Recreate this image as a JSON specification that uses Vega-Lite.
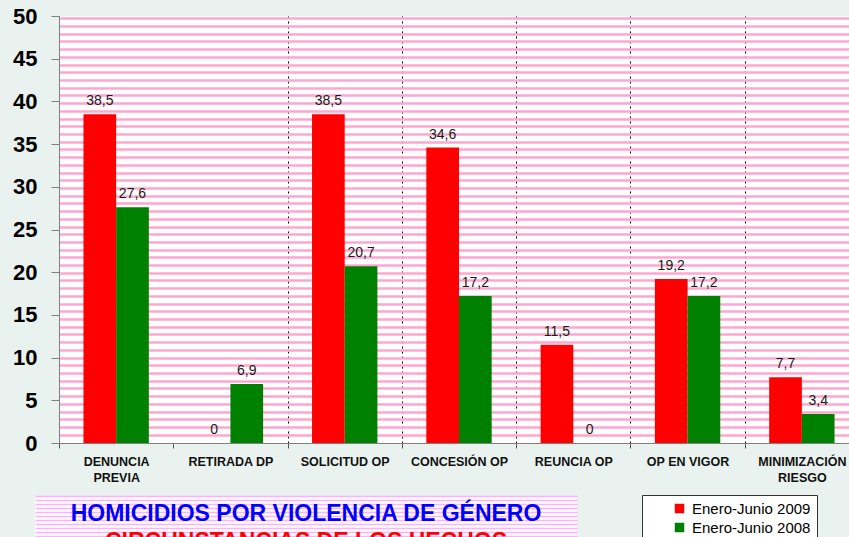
{
  "$schema": "https://vega.github.io/schema/vega-lite/v6.json",
  "background": "#eaf2ef",
  "padding": {"left": 12, "top": 5, "right": 0, "bottom": 0},
  "spacing": 12,
  "datasets": {
    "homicidios": [
      {"categoria": "DENUNCIA PREVIA", "periodo": "Enero-Junio 2009", "valor": 38.5},
      {"categoria": "DENUNCIA PREVIA", "periodo": "Enero-Junio 2008", "valor": 27.6},
      {"categoria": "RETIRADA DP", "periodo": "Enero-Junio 2009", "valor": 0},
      {"categoria": "RETIRADA DP", "periodo": "Enero-Junio 2008", "valor": 6.9},
      {"categoria": "SOLICITUD OP", "periodo": "Enero-Junio 2009", "valor": 38.5},
      {"categoria": "SOLICITUD OP", "periodo": "Enero-Junio 2008", "valor": 20.7},
      {"categoria": "CONCESIÓN OP", "periodo": "Enero-Junio 2009", "valor": 34.6},
      {"categoria": "CONCESIÓN OP", "periodo": "Enero-Junio 2008", "valor": 17.2},
      {"categoria": "REUNCIA OP", "periodo": "Enero-Junio 2009", "valor": 11.5},
      {"categoria": "REUNCIA OP", "periodo": "Enero-Junio 2008", "valor": 0},
      {"categoria": "OP EN VIGOR", "periodo": "Enero-Junio 2009", "valor": 19.2},
      {"categoria": "OP EN VIGOR", "periodo": "Enero-Junio 2008", "valor": 17.2},
      {"categoria": "MINIMIZACIÓN RIESGO", "periodo": "Enero-Junio 2009", "valor": 7.7},
      {"categoria": "MINIMIZACIÓN RIESGO", "periodo": "Enero-Junio 2008", "valor": 3.4}
    ],
    "titulo": [
      {"linea": "titulo", "texto": "HOMICIDIOS POR VIOLENCIA DE GÉNERO"},
      {"linea": "subtitulo", "texto": "CIRCUNSTANCIAS DE LOS HECHOS"}
    ],
    "vacio": [{"n": 0}]
  },
  "vconcat": [
    {
      "hconcat": [
        {
          "width": 24,
          "height": 1,
          "data": {"name": "vacio"},
          "mark": {"type": "point", "opacity": 0},
          "view": {"fill": "transparent", "stroke": "transparent"}
        },
        {
          "width": 800,
          "height": 427,
          "data": {"name": "homicidios"},
          "encoding": {
            "x": {
              "field": "categoria",
              "type": "nominal",
              "sort": ["DENUNCIA PREVIA", "RETIRADA DP", "SOLICITUD OP", "CONCESIÓN OP", "REUNCIA OP", "OP EN VIGOR", "MINIMIZACIÓN RIESGO"],
              "scale": {"paddingInner": 0, "paddingOuter": 0},
              "axis": {
                "title": null,
                "labelAngle": 0,
                "labelFont": "Liberation Sans",
                "labelFontWeight": "bold",
                "labelFontSize": 12.5,
                "labelColor": "#111111",
                "labelPadding": 7,
                "labelLineHeight": 16,
                "labelLimit": 200,
                "labelExpr": "datum.value == 'DENUNCIA PREVIA' ? ['DENUNCIA', 'PREVIA'] : datum.value == 'MINIMIZACIÓN RIESGO' ? ['MINIMIZACIÓN', 'RIESGO'] : datum.label",
                "tickBand": "extent",
                "tickSize": 5,
                "tickColor": "#555555",
                "domainColor": "#808080",
                "grid": true,
                "gridColor": {"condition": {"test": "datum.value === 'DENUNCIA PREVIA'", "value": "transparent"}, "value": "#000000"},
                "gridWidth": {"condition": {"test": "datum.value === 'MINIMIZACIÓN RIESGO'", "value": 2}, "value": 1},
                "gridDash": [2, 3]
              }
            },
            "xOffset": {
              "field": "periodo",
              "sort": ["Enero-Junio 2009", "Enero-Junio 2008"],
              "scale": {"paddingInner": 0, "paddingOuter": 0.748}
            }
          },
          "layer": [
            {
              "mark": {"type": "bar"},
              "encoding": {
                "y": {
                  "field": "valor",
                  "type": "quantitative",
                  "scale": {"domain": [0, 50], "nice": false},
                  "axis": {
                    "title": null,
                    "values": [0, 5, 10, 15, 20, 25, 30, 35, 40, 45, 50],
                    "grid": false,
                    "labelFont": "Liberation Sans",
                    "labelFontWeight": "bold",
                    "labelFontSize": 22,
                    "labelColor": "#000000",
                    "labelPadding": 14,
                    "tickSize": 8,
                    "tickColor": "#808080",
                    "domainColor": "#808080"
                  }
                },
                "color": {
                  "field": "periodo",
                  "type": "nominal",
                  "scale": {"domain": ["Enero-Junio 2009", "Enero-Junio 2008"], "range": ["#ff0000", "#008000"]},
                  "legend": {
                    "orient": "none",
                    "legendX": 607,
                    "legendY": 479,
                    "title": null,
                    "fillColor": "white",
                    "strokeColor": "#333333",
                    "padding": 6,
                    "symbolType": "square",
                    "symbolSize": 90,
                    "symbolStrokeWidth": 0,
                    "symbolOffset": 24,
                    "labelFont": "Liberation Sans",
                    "labelFontSize": 15,
                    "labelColor": "#000000",
                    "labelOffset": 5,
                    "rowPadding": 3
                  }
                }
              }
            },
            {
              "mark": {"type": "text", "baseline": "alphabetic", "dy": -9, "font": "Liberation Sans", "fontSize": 14, "fill": "#1a1a1a"},
              "encoding": {
                "y": {
                  "field": "valor",
                  "type": "quantitative",
                  "axis": {
                    "orient": "right",
                    "title": null,
                    "labels": false,
                    "ticks": false,
                    "domain": false,
                    "grid": true,
                    "gridColor": "#ffa6d0",
                    "gridWidth": 2.5,
                    "values": [0.97, 1.87, 2.78, 3.68, 4.58, 5.49, 6.39, 7.29, 8.19, 9.1, 10.0, 10.9, 11.81, 12.71, 13.61, 14.52, 15.42, 16.32, 17.22, 18.13, 19.03, 19.93, 20.84, 21.74, 22.64, 23.55, 24.45, 25.35, 26.25, 27.16, 28.06, 28.96, 29.87, 30.77, 31.67, 32.58, 33.48, 34.38, 35.28, 36.19, 37.09, 37.99, 38.9, 39.8, 40.7, 41.61, 42.51, 43.41, 44.31, 45.22, 46.12, 47.02, 47.93, 48.83, 49.73]
                  }
                },
                "text": {"field": "valor", "type": "quantitative", "format": ".1~f"}
              }
            }
          ],
          "resolve": {"axis": {"y": "independent"}}
        }
      ],
      "spacing": 0,
      "bounds": "flush"
    },
    {
      "width": 542,
      "height": 78,
      "data": {"name": "titulo"},
      "layer": [
        {
          "mark": {"type": "rule", "opacity": 0},
          "encoding": {
            "y": {
              "datum": 0,
              "type": "quantitative",
              "scale": {"domain": [0, 19.5], "nice": false},
              "axis": {
                "title": null,
                "labels": false,
                "domain": false,
                "ticks": false,
                "grid": true,
                "gridColor": "#ffb0ff",
                "gridWidth": 1.5,
                "values": [0.5, 1.5, 2.5, 3.5, 4.5, 5.5, 6.5, 7.5, 8.5, 9.5, 10.5, 11.5, 12.5, 13.5, 14.5, 15.5, 16.5, 17.5, 18.5, 19.5]
              }
            }
          }
        },
        {
          "mark": {"type": "text", "font": "Liberation Sans", "fontWeight": "bold", "fontSize": 23, "baseline": "alphabetic"},
          "encoding": {
            "y": {"field": "linea", "type": "nominal", "sort": ["titulo", "subtitulo"], "scale": {"padding": 0.893}, "axis": null},
            "text": {"field": "texto", "type": "nominal"},
            "fill": {"field": "linea", "type": "nominal", "scale": {"domain": ["titulo", "subtitulo"], "range": ["#0000ff", "#ff0000"]}, "legend": null}
          }
        }
      ],
      "resolve": {"scale": {"y": "independent"}}
    }
  ],
  "config": {
    "view": {"stroke": null, "fill": "white"},
    "font": "Liberation Sans",
    "locale": {"number": {"decimal": ",", "thousands": ".", "grouping": [3], "currency": ["", " €"]}}
  }
}
